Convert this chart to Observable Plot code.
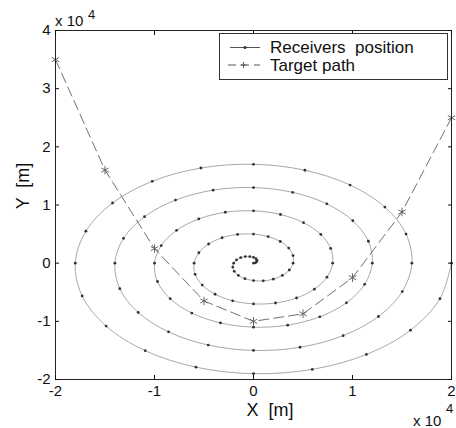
<!DOCTYPE html>
<html><head><meta charset="utf-8">
<script src="https://cdn.jsdelivr.net/npm/d3@7"></script>
<script src="https://cdn.jsdelivr.net/npm/@observablehq/plot@0.6"></script>
<style>
body{margin:0;background:#fff}
svg{font-family:"Liberation Sans",Arial,sans-serif}
</style>
</head><body><div id="chart"></div><script>
// Receivers position (m)
const receiverX = [0,190,324,353,247,0,-371,-823,-1294,-1712,-2000,-2092,-1942,-1528,-865,0,989,1998,2912,3614,
4000,3995,3560,2704,1483,0,-1607,-3174,-4531,-5516,-6000,-5897,-5178,-3879,-2101,0,2225,4350,6149,7418,
8000,7799,6796,5055,2719,0,-2843,-5525,-7767,-9320,-10000,-9701,-8414,-6231,-3337,0,3461,6701,9385,11223,
12000,11603,10032,7406,3955,0,-4079,-7876,-11003,-13125,-14000,-13505,-11650,-8582,-4574,0,4697,9052,12621,15027,
16000,15407,13268,9757,5192,0,-5315,-10228,-14239,-16929,-18000,-17309,-14886,-10933,-5810,0,5933,11403,15857,18831,20000];
const receiverY = [0,62,235,485,761,1000,1141,1133,940,556,0,-680,-1411,-2103,-2663,-3000,-3043,-2751,-2116,-1174,
0,1298,2586,3721,4565,5000,4946,4369,3292,1792,0,-1916,-3762,-5340,-6467,-7000,-6848,-5987,-4467,-2410,
0,2534,4937,6958,8369,9000,8750,7605,5643,3028,0,-3152,-6113,-8576,-10271,-11000,-10652,-9223,-6818,-3646,
0,3770,7289,10194,12174,13000,12554,10841,7994,4264,0,-4388,-8464,-11812,-14076,-15000,-14456,-12459,-9170,-4883,
0,5006,9640,13430,15978,17000,16358,14077,10345,5501,0,-5624,-10815,-15048,-17880,-19000,-18260,-15695,-11521,-6119,0];
// Target path (m)
const targetX = [-20000,-15000,-10000,-5000,0,5000,10000,15000,20000];
const targetY = [35000,16000,2500,-6500,-10000,-8700,-2500,8800,25000];
// ticks (x 10^4)
const xTicks = [-2,-1,0,1,2];
const yTicks = [-2,-1,0,1,2,3,4];

const receivers = receiverX.map((x,i)=>({x, y: receiverY[i]}));
const target = targetX.map((x,i)=>({x, y: targetY[i]}));

const chart = Plot.plot({
  width: 456, height: 428,
  marginLeft: 55, marginRight: 5, marginTop: 30, marginBottom: 49,
  style: {fontFamily: "Liberation Sans, Arial, sans-serif", fontSize: "15px", background: "#fff", color: "#111"},
  x: {domain: [-20000, 20000]},
  y: {domain: [-20000, 40000]},
  marks: [
    Plot.line(receivers, {x:"x", y:"y", curve:"catmull-rom", stroke:"#a8a8a8", strokeWidth:1}),
    Plot.dot(receivers, {x:"x", y:"y", r:1.4, fill:"#333"}),
    Plot.line(target, {x:"x", y:"y", stroke:"#707070", strokeWidth:1, strokeDasharray:"10,5"}),
    Plot.dot(target, {x:"x", y:"y", symbol:"asterisk", r:4, stroke:"#666", strokeWidth:1}),
    Plot.frame({stroke:"#222"}),
    Plot.axisX({anchor:"bottom", ticks: xTicks.map(d=>d*1e4), tickSize:-4, tickPadding:10, tickFormat: d => String(d/1e4), label:null}),
    Plot.axisX({anchor:"top", ticks: xTicks.map(d=>d*1e4), tickSize:-4, tickFormat: () => "", label:null}),
    Plot.axisY({anchor:"left", ticks: yTicks.map(d=>d*1e4), tickSize:-4, tickPadding:9, tickFormat: d => String(d/1e4), label:null}),
    Plot.axisY({anchor:"right", ticks: yTicks.map(d=>d*1e4), tickSize:-4, tickFormat: () => "", label:null})
  ]
});
document.getElementById("chart").append(chart);

const svg = d3.select(chart.tagName === "svg" ? chart : chart.querySelector("svg"));
const g = svg.append("g").attr("font-family", "Liberation Sans, Arial, sans-serif").attr("fill", "#111").attr("text-anchor", "start");
// exponent labels
g.append("text").attr("x", 55).attr("y", 26).attr("font-size", 15).text("x 10");
g.append("text").attr("x", 88).attr("y", 19).attr("font-size", 13).text("4");
g.append("text").attr("x", 413).attr("y", 426).attr("font-size", 15).text("x 10");
g.append("text").attr("x", 446).attr("y", 413).attr("font-size", 13).text("4");
// axis titles
g.append("text").attr("x", 270).attr("y", 416).attr("font-size", 18).attr("text-anchor", "middle").style("white-space","pre").text("X  [m]");
g.append("text").attr("transform", "translate(29,186) rotate(-90)").attr("font-size", 18).attr("text-anchor", "middle").style("white-space","pre").text("Y  [m]");
// legend
const lg = svg.append("g").attr("font-family", "Liberation Sans, Arial, sans-serif").attr("text-anchor", "start");
lg.append("rect").attr("x", 219.5).attr("y", 33.5).attr("width", 228).attr("height", 46).attr("fill", "#fff").attr("stroke", "#333");
lg.append("line").attr("x1", 230).attr("x2", 260).attr("y1", 47.5).attr("y2", 47.5).attr("stroke", "#555");
lg.append("circle").attr("cx", 245).attr("cy", 47.5).attr("r", 1.5).attr("fill", "#333");
lg.append("text").attr("x", 270).attr("y", 53).attr("font-size", 17).attr("fill", "#111").style("white-space","pre").text("Receivers  position");
lg.append("line").attr("x1", 228).attr("x2", 260).attr("y1", 65).attr("y2", 65).attr("stroke", "#555").attr("stroke-dasharray", "8,5");
lg.append("path").attr("d", "M240.5,65H246.5M243.5,62V68").attr("stroke", "#555");
lg.append("text").attr("x", 270).attr("y", 71).attr("font-size", 17).attr("fill", "#111").style("white-space","pre").text("Target path");
</script></body></html>
